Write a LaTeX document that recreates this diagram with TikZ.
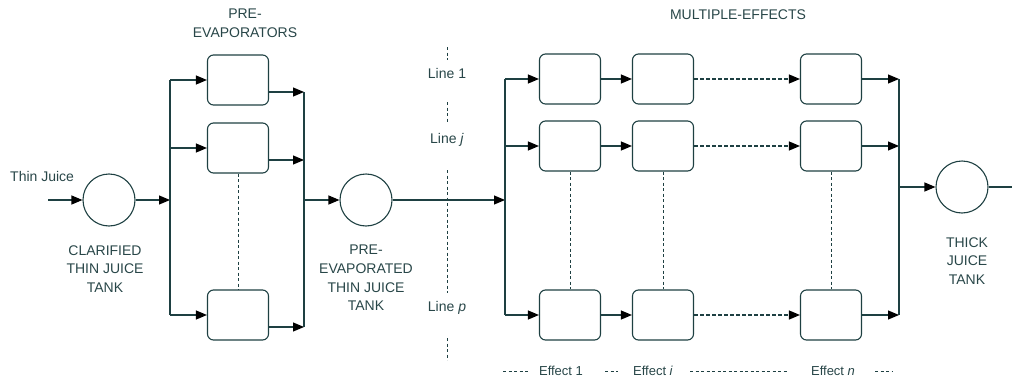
\documentclass[tikz,border=0pt]{standalone}
\usepackage{fontspec}
\setmainfont{Liberation Sans}
\usetikzlibrary{arrows.meta,calc}
\definecolor{ink}{RGB}{30,64,66}
\definecolor{txt}{RGB}{40,70,72}
\begin{document}
\begin{tikzpicture}[x=1pt,y=-1pt,
  line/.style={draw=ink,line width=1.1pt},
  flow/.style={line,-{Triangle[length=11pt,width=9pt,color=black]}},
  dashflow/.style={flow,dash pattern=on 3.5pt off 2.5pt},
  guide/.style={draw=ink,line width=0.9pt,dash pattern=on 3pt off 2.5pt},
  tank/.style={circle,draw=ink,line width=1.1pt,minimum size=52pt,inner sep=0pt},
  unit/.style={draw=ink,line width=1.1pt,rounded corners=6pt,minimum width=61pt,minimum height=50pt,inner sep=0pt},
  label/.style={text=txt,font=\fontsize{14}{18.6}\selectfont,align=center,inner sep=0pt},
  small/.style={text=txt,font=\fontsize{13}{15}\selectfont,inner sep=0pt}]
\useasboundingbox (0,0) rectangle (1012,380);

% storage tanks
\node[tank] (t1) at (109,200) {};
\node[tank] (t2) at (366,200) {};
\node[tank] (t3) at (962,187) {};

% pre-evaporators
\node[unit] (p1) at (238,80) {};
\node[unit] (p2) at (238,148) {};
\node[unit] (p3) at (238,315) {};

% multiple-effect evaporators: row / column
\foreach \c/\x in {1/570,2/663,n/831}{
  \node[unit] (e1\c) at (\x,79) {};
  \node[unit] (e2\c) at (\x,146) {};
  \node[unit] (e3\c) at (\x,315) {};
}

% labels
\node[label,anchor=west] (thin) at (10,176) {Thin Juice};
\node[label] (clar) at (105,269) {CLARIFIED\\THIN JUICE\\TANK};
\node[label] (pretitle) at (245,23) {PRE-\\EVAPORATORS};
\node[label] (pretank) at (366,278) {PRE-\\EVAPORATED\\THIN JUICE\\TANK};
\node[label] (metitle) at (738,15) {MULTIPLE-EFFECTS};
\node[label] (thick) at (967,261) {THICK\\JUICE\\TANK};
\node[label] (l1) at (447,73) {Line 1};
\node[label] (lj) at (447,140) {Line \textit{j}};
\node[label] (lp) at (447,308) {Line \textit{p}};
\node[small] (ef1) at (561,371) {Effect 1};
\node[small] (efi) at (653,371) {Effect \textit{i}};
\node[small] (efn) at (833,371) {Effect \textit{n}};

% feed into the clarified juice tank
\coordinate (in) at (48,200);
\draw[flow] (in) -- (t1);

% distribution to the pre-evaporators
\coordinate (lb) at (170,200);
\draw[flow] (t1) -- (lb);
\draw[line] (lb |- p1) -- (lb |- p3);
\foreach \p in {p1,p2,p3} \draw[flow] (lb |- \p) -- (\p);

% collection from the pre-evaporators
\coordinate (rb) at (304,200);
\foreach \p in {p1,p2,p3} {
  \coordinate (o\p) at ($(\p.east)+(0,12)$);
  \draw[flow] (o\p) -- (rb |- o\p);
}
\draw[line] (rb |- op1) -- (rb |- op3);
\draw[flow] (rb) -- (t2);
\draw[guide] (p2) -- (p3);

% distribution to the effect lines
\coordinate (mb) at (505,200);
\draw[flow] (t2) -- (mb);
\draw[line] (mb |- e11) -- (mb |- e31);
\foreach \r in {1,2,3} {
  \draw[flow] (mb |- e\r1) -- (e\r1);
  \draw[flow] (e\r1) -- (e\r2);
  \draw[dashflow] (e\r2) -- (e\r n);
}
\foreach \c in {1,2,n} \draw[guide] (e2\c) -- (e3\c);

% collection into the thick juice tank
\coordinate (ob) at (899,187);
\foreach \r in {1,2,3} \draw[flow] (e\r n) -- (ob |- e\r n);
\draw[line] (ob |- e1n) -- (ob |- e3n);
\draw[flow] (ob) -- (t3);
\coordinate (out) at (1012,187);
\draw[line] (t3) -- (out);

% line markers
\coordinate (g0) at (447,47);
\coordinate (g1) at (447,60);
\coordinate (g2) at (447,102);
\coordinate (g3) at (447,122);
\coordinate (g4) at (447,170);
\coordinate (g5) at (447,293);
\coordinate (g6) at (447,338);
\coordinate (g7) at (447,360);
\draw[guide] (g0) -- (g1);
\draw[guide] (g2) -- (g3);
\draw[guide] (g4) -- (g5);
\draw[guide] (g6) -- (g7);

% effect markers
\coordinate (d0) at (503,371);
\coordinate (d1) at (530,371);
\coordinate (d2) at (605,371);
\coordinate (d3) at (618,371);
\coordinate (d4) at (690,371);
\coordinate (d5) at (788,371);
\coordinate (d6) at (875,371);
\coordinate (d7) at (893,371);
\draw[guide] (d0) -- (d1);
\draw[guide] (d2) -- (d3);
\draw[guide] (d4) -- (d5);
\draw[guide] (d6) -- (d7);
\end{tikzpicture}
\end{document}
